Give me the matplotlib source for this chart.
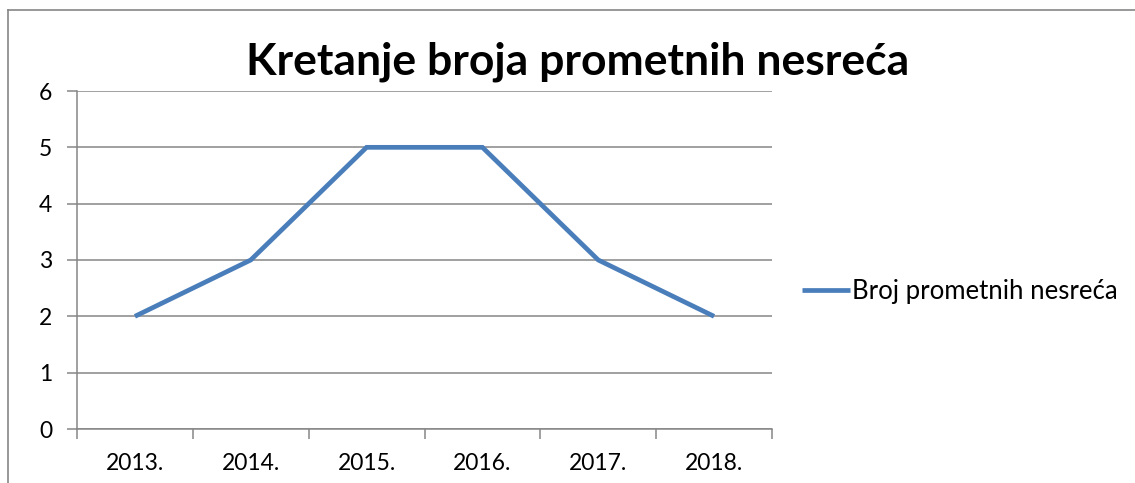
import matplotlib
matplotlib.use("Agg")

import matplotlib.pyplot as plt
from matplotlib.lines import Line2D

years = ["2013.", "2014.", "2015.", "2016.", "2017.", "2018."]
accidents = [2, 3, 5, 5, 3, 2]
series_name = "Broj prometnih nesreća"
title = "Kretanje broja prometnih nesreća"

GRID = "#868686"
BLUE = "#4A7EBB"

plt.rcParams["font.family"] = ["Lato", "DejaVu Sans"]

fig = plt.figure(figsize=(11.35, 4.83), dpi=100)
ax = fig.add_axes([77 / 1135, 54 / 483, 695 / 1135, 338 / 483])

x = list(range(len(years)))
ax.plot(x, accidents, color=BLUE, lw=3.4, solid_joinstyle="miter",
        solid_capstyle="butt", label=series_name)

ax.set_xlim(-0.5, len(years) - 0.5)
ax.set_ylim(0, 6)
ax.set_yticks(range(0, 7))
ax.yaxis.grid(True, color=GRID, lw=1.1)
ax.set_axisbelow(True)

ax.set_xticks([i - 0.5 for i in range(len(years) + 1)])
ax.set_xticklabels([])
ax.set_xticks(x, minor=True)
ax.set_xticklabels(years, minor=True)
ax.tick_params(axis="x", which="minor", length=0, pad=17, labelsize=16.5)
ax.tick_params(axis="x", which="major", length=7, color=GRID, width=1.1)
ax.tick_params(axis="y", length=7, color=GRID, width=1.1, pad=11, labelsize=16.5)

for side in ["top", "right"]:
    ax.spines[side].set_visible(False)
for side in ["left", "bottom"]:
    ax.spines[side].set_color(GRID)
    ax.spines[side].set_linewidth(1.1)

fig.text(578 / 1135, 1 - 62 / 483, title, ha="center", va="center",
         fontsize=32, fontweight="bold")

# chart area frame (partially visible)
fig.add_artist(Line2D([8 / 1135, 8 / 1135], [0.0, 1 - 10 / 483],
                      transform=fig.transFigure, color=GRID, lw=1.2))
fig.add_artist(Line2D([8 / 1135, 1.0], [1 - 10 / 483, 1 - 10 / 483],
                      transform=fig.transFigure, color=GRID, lw=1.2))

ax.legend(loc="center left", bbox_to_anchor=(802 / 1135, 1 - 291 / 483),
          bbox_transform=fig.transFigure, frameon=False, fontsize=18.5,
          handlelength=1.85, handletextpad=0.08, borderpad=0, borderaxespad=0)

fig.savefig("out.png", dpi=100)
